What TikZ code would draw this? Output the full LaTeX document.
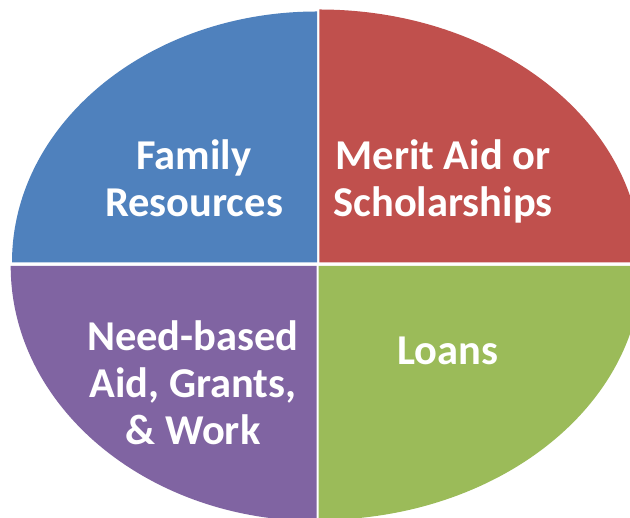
\documentclass[tikz,border=0pt]{standalone}
\usepackage{fontspec}
\setmainfont{Carlito}
\definecolor{qblue}{HTML}{4F81BD}
\definecolor{qred}{HTML}{C0504D}
\definecolor{qpurple}{HTML}{8064A2}
\definecolor{qgreen}{HTML}{9BBB59}
\begin{document}
\begin{tikzpicture}[x=1pt,y=1pt,
  lbl/.style={anchor=base,inner sep=0pt,text=white,font=\fontsize{42.5}{49}\selectfont\bfseries}]
\useasboundingbox (0,0) rectangle (630,518);
\clip (0,0) rectangle (630,518);
\fill[white] (0,0) rectangle (630,518);
\fill[qblue] (317,255.5) -- ++(-305,0) arc[start angle=180,end angle=90,x radius=305,y radius=251] -- cycle;
\fill[qred] (319.3,255.5) -- ++(0,253) arc[start angle=90,end angle=0,x radius=322,y radius=253] -- cycle;
\fill[qpurple] (316.7,252) -- ++(-306,0) arc[start angle=180,end angle=270,x radius=306,y radius=255] -- cycle;
\fill[qgreen] (318.7,252) -- ++(323,0) arc[start angle=0,end angle=-90,x radius=323,y radius=254] -- cycle;
\node[lbl] (fam1) at (194,348) {Family};
\node[lbl] (fam2) at (194,301) {Resources};
\node[lbl] (mer1) at (443,348) {Merit Aid or};
\node[lbl] (mer2) at (443,301) {Scholarships};
\node[lbl] (need1) at (193,167) {Need-based};
\node[lbl] (need2) at (193,120) {Aid, Grants,};
\node[lbl] (need3) at (193,73) {\& Work};
\node[lbl] (loan) at (448,153) {Loans};
\end{tikzpicture}
\end{document}
